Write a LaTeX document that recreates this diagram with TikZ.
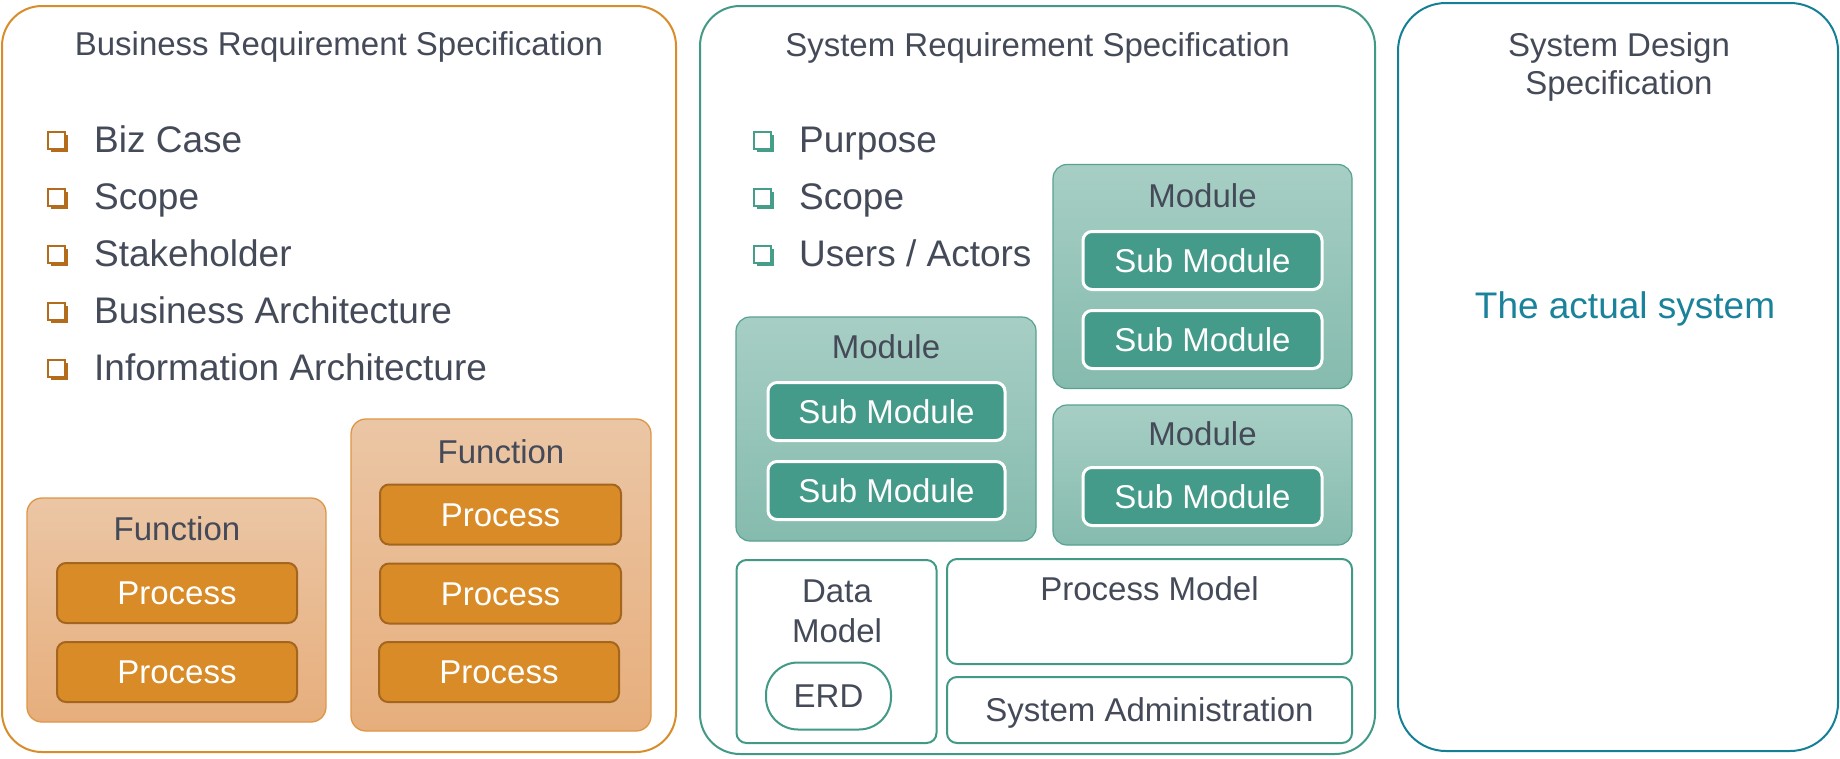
\documentclass[tikz,border=0pt]{standalone}
\usepackage{fontspec}
\setmainfont{Liberation Sans}
\definecolor{txtgray}{RGB}{68,74,88}
\definecolor{brsborder}{RGB}{216,140,42}
\definecolor{funcborder}{RGB}{222,150,70}
\definecolor{functop}{RGB}{235,198,165}
\definecolor{funcbot}{RGB}{231,174,124}
\definecolor{procfill}{RGB}{216,139,39}
\definecolor{procborder}{RGB}{164,102,30}
\definecolor{brsbul}{RGB}{178,108,28}
\definecolor{srsborder}{RGB}{66,153,134}
\definecolor{modtop}{RGB}{167,206,196}
\definecolor{modbot}{RGB}{133,187,174}
\definecolor{modborder}{RGB}{88,162,145}
\definecolor{subfill}{RGB}{69,155,138}
\definecolor{srsbul}{RGB}{70,158,138}
\definecolor{sdsborder}{RGB}{20,128,150}
\definecolor{sdstext}{RGB}{26,130,155}
\newcommand\sqbul[3]{%
  \fill[#3] (#1+3,#2+3) rectangle (#1+20,#2+20);
  \filldraw[fill=white,draw=#3,line width=1.4pt] (#1,#2) rectangle (#1+17,#2+17);}
\tikzset{
  fnt/.style={font=\fontsize{33}{40}\selectfont},
  bigfnt/.style={font=\fontsize{37}{44}\selectfont},
  capbox/.style={inner sep=0pt,outer sep=0pt,text height=23.6pt,text depth=0pt},
  outerbox/.style={draw=#1,line width=2pt,rounded corners=40pt,fill=white,inner sep=0pt,outer sep=0pt},
  funcbox/.style={draw=funcborder,line width=1.3pt,rounded corners=15pt,top color=functop,bottom color=funcbot,inner sep=0pt,outer sep=0pt},
  procbox/.style={draw=procborder,line width=2pt,rounded corners=9pt,fill=procfill,text=white,fnt,capbox,minimum height=60pt},
  modbox/.style={draw=modborder,line width=1.2pt,rounded corners=14pt,top color=modtop,bottom color=modbot,inner sep=0pt,outer sep=0pt},
  subbox/.style={draw=white,line width=3pt,rounded corners=9pt,fill=subfill,text=white,fnt,capbox,minimum height=58pt},
  plainbox/.style={draw=srsborder,line width=2pt,rounded corners=10pt,fill=white,inner sep=0pt,outer sep=0pt},
  lbl/.style={text=txtgray,fnt,capbox},
  item/.style={text=txtgray,bigfnt,anchor=base west,inner sep=0pt},
}
\begin{document}
\begin{tikzpicture}[x=1pt,y=-1pt]
\useasboundingbox (0,0) rectangle (1840,758);
% ---------- Business Requirement Specification ----------
\node[outerbox=brsborder,minimum width=674pt,minimum height=746pt] (brs) at (339,379) {};
\node[lbl] (brstitle) at (339,44) {Business Requirement Specification};
\sqbul{48}{132}{brsbul}
\sqbul{48}{189}{brsbul}
\sqbul{48}{246}{brsbul}
\sqbul{48}{303}{brsbul}
\sqbul{48}{360}{brsbul}
\node[item] (b1) at (94,152) {Biz Case};
\node[item] (b2) at (94,209) {Scope};
\node[item] (b3) at (94,266) {Stakeholder};
\node[item] (b4) at (94,323) {Business Architecture};
\node[item] (b5) at (94,380) {Information Architecture};
% left function
\node[funcbox,minimum width=299pt,minimum height=224pt] (f1) at (176.5,610) {};
\node[lbl] (f1lbl) at (177,529) {Function};
\node[procbox,minimum width=240pt] (p11) at (177,593) {Process};
\node[procbox,minimum width=240pt] (p12) at (177,672) {Process};
% right function
\node[funcbox,minimum width=300pt,minimum height=312pt] (f2) at (501,575) {};
\node[lbl] (f2lbl) at (501,452) {Function};
\node[procbox,minimum width=241pt] (p21) at (500.5,514.5) {Process};
\node[procbox,minimum width=241pt] (p22) at (500.5,593.5) {Process};
\node[procbox,minimum width=240pt] (p23) at (499,672) {Process};
% ---------- System Requirement Specification ----------
\node[outerbox=srsborder,minimum width=675pt,minimum height=748pt] (srs) at (1037.5,380) {};
\node[lbl] (srstitle) at (1037.5,45) {System Requirement Specification};
\sqbul{754}{132}{srsbul}
\sqbul{754}{189}{srsbul}
\sqbul{754}{246}{srsbul}
\node[item] (s1) at (799,152) {Purpose};
\node[item] (s2) at (799,209) {Scope};
\node[item] (s3) at (799,266) {Users / Actors};
% top right module
\node[modbox,minimum width=299pt,minimum height=224pt] (m1) at (1202.5,276.5) {};
\node[lbl] (m1lbl) at (1202.5,196) {Module};
\node[subbox,minimum width=239pt] (sm11) at (1202.5,260.5) {Sub Module};
\node[subbox,minimum width=239pt] (sm12) at (1202.5,339.5) {Sub Module};
% left module
\node[modbox,minimum width=300pt,minimum height=224pt] (m2) at (886,429) {};
\node[lbl] (m2lbl) at (886,347) {Module};
\node[subbox,minimum width=237pt] (sm21) at (886.5,411.5) {Sub Module};
\node[subbox,minimum width=237pt] (sm22) at (886.5,490.5) {Sub Module};
% bottom right module
\node[modbox,minimum width=299pt,minimum height=140pt] (m3) at (1202.5,475) {};
\node[lbl] (m3lbl) at (1202.5,434) {Module};
\node[subbox,minimum width=239pt] (sm31) at (1202.5,496.5) {Sub Module};
% bottom row
\node[plainbox,minimum width=200pt,minimum height=183pt] (dm) at (836.5,651.5) {};
\node[lbl] (dmlbl1) at (837,591) {Data};
\node[lbl] (dmlbl2) at (837,631) {Model};
\node[draw=srsborder,line width=2pt,rounded corners=32pt,fill=white,fnt,capbox,text=txtgray,minimum width=125pt,minimum height=67pt] (erd) at (828.5,696) {ERD};
\node[plainbox,minimum width=405pt,minimum height=105pt] (pm) at (1149.5,611.5) {};
\node[lbl] (pmlbl) at (1149.5,589) {Process Model};
\node[plainbox,lbl,minimum width=405pt,minimum height=66pt] (sa) at (1149.5,710) {System Administration};
% ---------- System Design Specification ----------
\node[outerbox=sdsborder,rounded corners=48pt,minimum width=440pt,minimum height=748pt] (sds) at (1618,377) {};
\node[lbl] (sdst1) at (1619,45) {System Design};
\node[lbl] (sdst2) at (1619,83) {Specification};
\node[capbox,bigfnt,text=sdstext,text height=26.5pt] (actual) at (1625,305) {The actual system};
\end{tikzpicture}
\end{document}
